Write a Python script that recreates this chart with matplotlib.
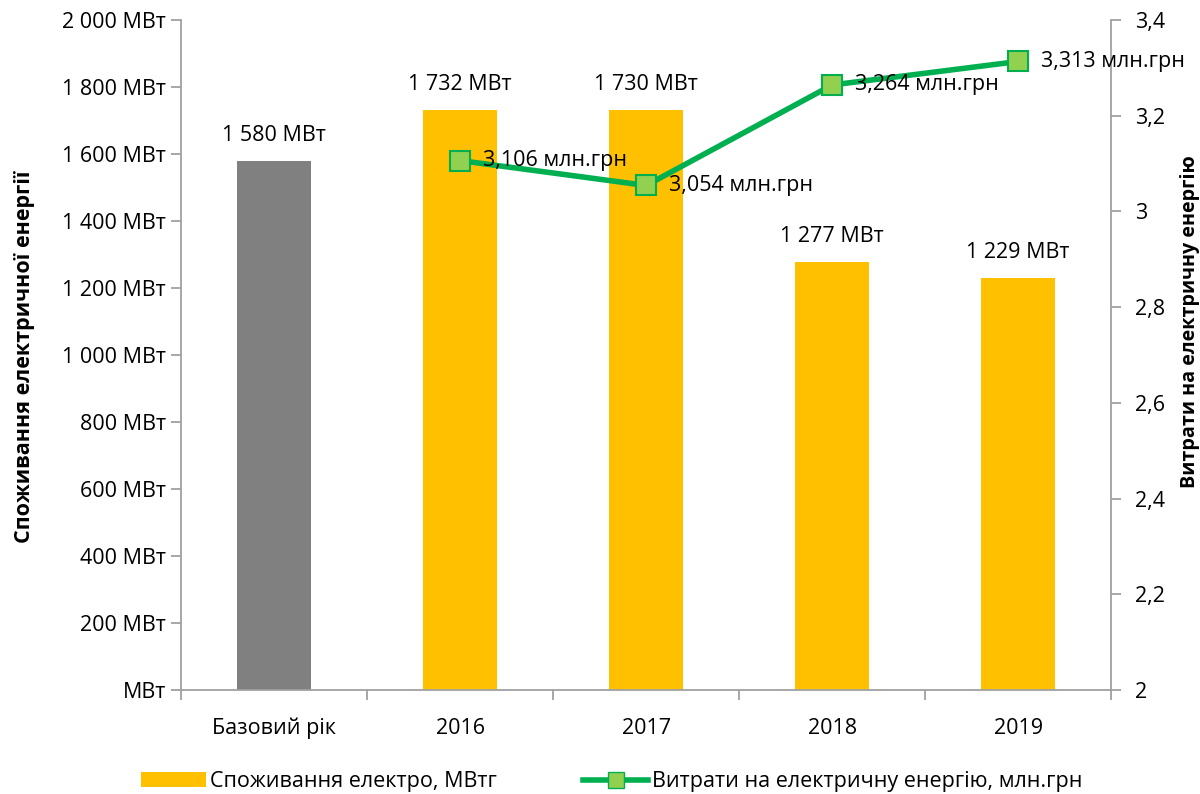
import numpy as np
import matplotlib
matplotlib.use("Agg")
import matplotlib.pyplot as plt
from matplotlib.ticker import FuncFormatter, FixedLocator
from matplotlib.patches import Patch
from matplotlib.lines import Line2D

plt.rcParams['font.family'] = ['Open Sans', 'DejaVu Sans']

categories = ['Базовий рік', '2016', '2017', '2018', '2019']
consumption = [1580, 1732, 1730, 1277, 1229]
bar_colors = ['#808080', '#FFC000', '#FFC000', '#FFC000', '#FFC000']
cost_years = ['2016', '2017', '2018', '2019']
cost = [3.106, 3.054, 3.264, 3.313]

fs = 15.5


def mwt(v, pos=None):
    if v == 0:
        return 'МВт'
    return f"{int(v):,}".replace(',', ' ') + ' МВт'


def comma(v, pos=None):
    s = f"{v:.1f}".rstrip('0').rstrip('.')
    return s.replace('.', ',')


fig = plt.figure(figsize=(12, 7.94), dpi=100)
ax = fig.add_axes([0.151, 0.131, 0.775, 0.844])
x = np.arange(len(categories))

ax.bar(x, consumption, width=0.4, color=bar_colors, zorder=2)
for xi, v in zip(x, consumption):
    ax.text(xi, v + 45, mwt(v), ha='center', va='bottom', fontsize=fs)

ax.set_xlim(-0.5, len(categories) - 0.5)
ax.set_ylim(0, 2000)
ax.set_yticks(np.arange(0, 2001, 200))
ax.yaxis.set_major_formatter(FuncFormatter(mwt))
ax.set_xticks(x)
ax.set_xticklabels(categories)
ax.xaxis.set_minor_locator(FixedLocator(np.arange(-0.5, len(categories), 1)))
ax.tick_params(axis='x', which='major', length=0, pad=20, labelsize=fs)
ax.tick_params(axis='x', which='minor', length=7, color='#A0A0A0', width=1.3)
ax.tick_params(axis='y', length=7, color='#A0A0A0', width=1.3, labelsize=fs, pad=4)
for s in ['top', 'right']:
    ax.spines[s].set_visible(False)
for s in ['left', 'bottom']:
    ax.spines[s].set_color('#A0A0A0')
    ax.spines[s].set_linewidth(1.3)
ax.set_ylabel('Споживання електричної енергії', fontsize=15.5, fontweight='bold')
ax.yaxis.set_label_coords(-0.157, 0.497)

ax2 = ax.twinx()
cx = [categories.index(c) for c in cost_years]
ax2.plot(cx, cost, color='#00B050', lw=4, marker='s', markersize=14,
         markerfacecolor='#92D050', markeredgecolor='#00B050', markeredgewidth=1.5, zorder=3)
for xi, v in zip(cx, cost):
    ax2.text(xi + 0.12, v, f"{v:.3f}".replace('.', ',') + ' млн.грн',
             ha='left', va='center', fontsize=fs)
ax2.set_ylim(2, 3.4)
ax2.set_yticks(np.arange(2, 3.41, 0.2))
ax2.yaxis.set_major_formatter(FuncFormatter(comma))
ax2.tick_params(axis='y', length=7, color='#A0A0A0', width=1.3, labelsize=fs, pad=10)
for s in ['top', 'left', 'bottom']:
    ax2.spines[s].set_visible(False)
ax2.spines['right'].set_color('#A0A0A0')
ax2.spines['right'].set_linewidth(1.3)
ax2.set_ylabel('Витрати на електричну енергію', fontsize=14.2, fontweight='bold', rotation=90)
ax2.yaxis.set_label_coords(1.074, 0.55)

handles = [Patch(facecolor='#FFC000', edgecolor='none'),
           Line2D([0], [0], color='#00B050', lw=4, marker='s', markersize=12,
                  markerfacecolor='#92D050', markeredgecolor='#00B050')]
labels = ['Споживання електро, МВтг', 'Витрати на електричну енергію, млн.грн']
fig.legend(handles, labels, loc='lower center', bbox_to_anchor=(0.51, -0.022), ncol=2,
           frameon=False, fontsize=fs, columnspacing=4.0, handlelength=3, handletextpad=0.2)

fig.savefig('out.png', dpi=100)
